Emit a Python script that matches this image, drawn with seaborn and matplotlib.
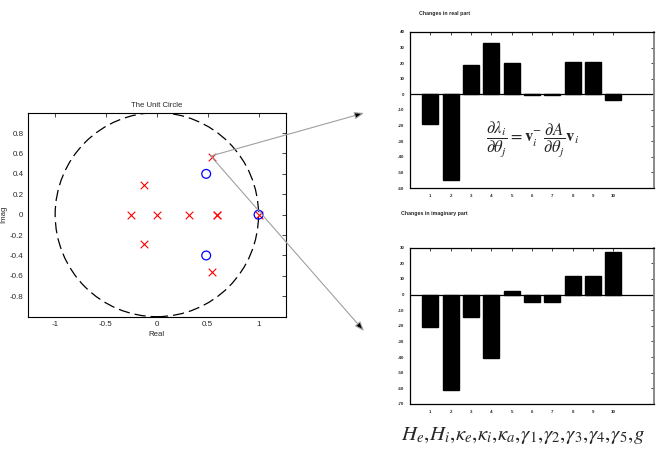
import numpy as np
import pandas as pd
import seaborn as sns
import matplotlib.pyplot as plt
from matplotlib.patches import Circle

# pole/zero locations
pole_re = [0.54, 0.54, -0.13, -0.13, -0.25, 0.0, 0.32, 0.59, 0.59, 1.0]
pole_im = [0.57, -0.56, 0.29, -0.29, 0.0, 0.0, 0.0, 0.0, 0.0, 0.0]
zero_re = [0.485, 0.485, 1.0]
zero_im = [0.40, -0.40, 0.0]

params = [1, 2, 3, 4, 5, 6, 7, 8, 9, 10]
real_change = [-19, -55, 19, 33, 20, -0.5, -0.5, 21, 21, -3.6]
imag_change = [-21, -61, -14.5, -40.5, 2.3, -4.5, -4.5, 11.7, 11.7, 27.4]
param_names = [r'H_e', r'H_i', r'\kappa_e', r'\kappa_i', r'\kappa_a',
               r'\gamma_1', r'\gamma_2', r'\gamma_3', r'\gamma_4', r'\gamma_5', r'g']

sns.set_style("white")
plt.rcParams['font.family'] = ['Liberation Sans', 'DejaVu Sans']
plt.rcParams['mathtext.fontset'] = 'stix'

fig = plt.figure(figsize=(6.61, 4.55), dpi=100)

# ---- unit circle (zplane style) ----
ax = fig.add_axes([0.0419, 0.304, 0.3908, 0.4484])
ax.add_patch(Circle((0, 0), 1, fill=False, ec='black', lw=0.9, ls=(0, (9, 4))))
sns.scatterplot(x=pole_re, y=pole_im, marker='x', color='red', s=30, linewidth=0.8, ax=ax)
sns.scatterplot(x=zero_re, y=zero_im, marker='o', facecolor='none', edgecolor='blue',
                s=40, linewidth=0.9, ax=ax)
ax.set_xlim(-1.27, 1.27)
ax.set_ylim(-1, 1)
ax.set_xticks([-1, -0.5, 0, 0.5, 1])
ax.set_xticklabels(['-1', '-0.5', '0', '0.5', '1'])
ax.set_yticks([-0.8, -0.6, -0.4, -0.2, 0, 0.2, 0.4, 0.6, 0.8])
ax.set_yticklabels(['-0.8', '-0.6', '-0.4', '-0.2', '0', '0.2', '0.4', '0.6', '0.8'])
ax.tick_params(direction='in', length=3, width=0.6, labelsize=5.8, top=True, right=True, pad=3)
ax.set_title('The Unit Circle', fontsize=5.6, pad=4)
ax.set_xlabel('Real', fontsize=5.6, labelpad=2)
ax.set_ylabel('Imag', fontsize=5.6, labelpad=2)
for s in ax.spines.values():
    s.set_color('black')
    s.set_linewidth(0.8)

# arrows to the sensitivity plots
for end in [(364, 455 - 113), (364, 455 - 331)]:
    ax.annotate('', xy=end, xycoords='figure pixels', xytext=(0.53, 0.575), textcoords='data',
                arrowprops=dict(arrowstyle='-|>,head_length=0.4,head_width=0.15',
                                ec='#a0a0a0', fc='black', lw=0.8,
                                mutation_scale=14, shrinkA=0, shrinkB=0),
                annotation_clip=False)


def bar_panel(rect, values, ylim, title, title_xy):
    a = fig.add_axes(rect)
    sns.barplot(x=params, y=values, native_scale=True, color='black', saturation=1,
                width=0.8, edgecolor='black', ax=a)
    a.axhline(0, color='black', lw=0.9)
    a.set_xlim(0, 12)
    a.set_ylim(*ylim)
    a.set_xticks(params)
    a.set_xticklabels([str(p) for p in params], fontweight='bold')
    a.set_yticks(np.arange(ylim[0], ylim[1] + 1, 10))
    a.set_yticklabels([str(v) for v in np.arange(ylim[0], ylim[1] + 1, 10)], fontweight='bold')
    a.tick_params(direction='in', length=2.5, width=0.6, labelsize=3.2, top=True, right=True, pad=4)
    a.set_xlabel('')
    a.set_ylabel('')
    for s in a.spines.values():
        s.set_color('black')
        s.set_linewidth(0.9)
    a.spines['right'].set_color('#808080')
    a.spines['right'].set_linewidth(1.3)
    fig.text(title_xy[0] / 661, 1 - title_xy[1] / 455, title, fontsize=3.8,
             fontweight='bold', ha='left', va='center')
    return a


ax_re = bar_panel([0.6203, 0.5868, 0.3691, 0.3429], real_change, (-60, 40),
                  'Changes in real part', (419, 13))
ax_re.text(6.05, -29, r'$\dfrac{\partial\lambda_i}{\partial\theta_j}=\mathbf{v}_i^{-}\,'
           r'\dfrac{\partial A}{\partial\theta_j}\mathbf{v}_i$',
           fontsize=12, ha='center', va='center')

ax_im = bar_panel([0.6203, 0.1121, 0.3691, 0.3435], imag_change, (-70, 30),
                  'Changes in imaginary part', (401, 214))

fig.text(523 / 661, 1 - 436 / 455, '$' + r',\!'.join(param_names) + '$',
         fontsize=15, ha='center', va='center')

fig.savefig('out.png', dpi=100)
